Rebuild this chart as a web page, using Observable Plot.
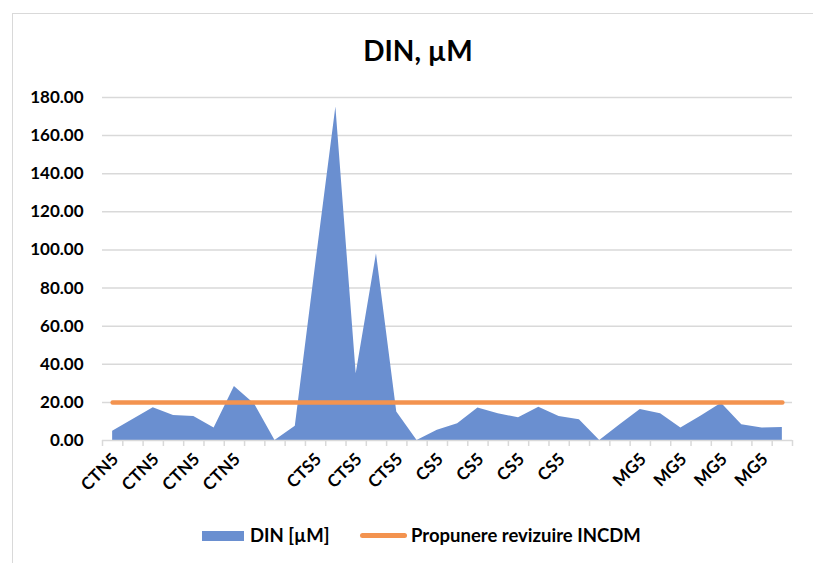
<!DOCTYPE html>
<html>
<head>
<meta charset="utf-8">
<script src="https://cdn.jsdelivr.net/npm/d3@7"></script>
<script src="https://cdn.jsdelivr.net/npm/@observablehq/plot@0.6"></script>
<style>
  html, body { margin: 0; padding: 0; background: #fff; }
  #wrap { position: relative; width: 813px; height: 563px; overflow: hidden; font-family: Lato, "Open Sans", sans-serif; }
  #frame { position: absolute; left: 12px; top: 13px; width: 820px; height: 600px; border-top: 1.5px solid #d9d9d9; border-left: 1.5px solid #d9d9d9; box-sizing: border-box; }
  #title { position: absolute; left: 0; width: 836px; top: 33px; text-align: center; font-weight: bold; font-size: 28px; color: #000; }
  #chart { position: absolute; left: 0; top: 0; }
  .leg { position: absolute; font-weight: bold; font-size: 18.5px; color: #000; line-height: 20px; }
  .sw-area { position: absolute; left: 202px; top: 531px; width: 42px; height: 10px; background: #6a8fd0; }
  .sw-line { position: absolute; left: 360px; top: 533px; width: 47px; height: 4.5px; border-radius: 3px; background: #f3934f; }
</style>
</head>
<body>
<div id="wrap">
  <div id="frame"></div>
  <div id="chart"></div>
  <div id="title">DIN, µM</div>
  <div class="sw-area"></div>
  <div class="leg" style="left:250px; top:525px;">DIN [µM]</div>
  <div class="sw-line"></div>
  <div class="leg" style="left:411px; top:525px;">Propunere revizuire INCDM</div>
</div>
<script>
// Category labels (one per data point; blank = separator)
const categories = [
  "CTN5","CTN5","CTN5","CTN5","CTN5","CTN5","CTN5","CTN5",
  "",
  "CTS5","CTS5","CTS5","CTS5","CTS5","CTS5",
  "",
  "CS5","CS5","CS5","CS5","CS5","CS5","CS5","CS5",
  "",
  "MG5","MG5","MG5","MG5","MG5","MG5","MG5","MG5","MG5"
];
// Displayed tick labels (every other category)
const labelTicks = [0,2,4,6,8,10,12,14,16,18,20,22,24,26,28,30,32];
const tickLabels = ["CTN5","CTN5","CTN5","CTN5","","CTS5","CTS5","CTS5","CS5","CS5","CS5","CS5","","MG5","MG5","MG5","MG5"];
// DIN [µM] values
const dinValues = [
  4.9, 11, 17.2, 13.1, 12.6, 6.5, 28.4, 19,
  0,
  7.5, 92, 175, 35, 98, 15,
  0,
  5.4, 8.8, 17, 14, 11.9, 17.5, 12.6, 10.9,
  0,
  8.2, 16.3, 14, 6.5, 12.8, 19.5, 8.2, 6.5, 6.8
];
// Propunere revizuire INCDM threshold
const limitValues = [20,20,20,20,20,20,20,20,20,20,20,20,20,20,20,20,20,20,20,20,20,20,20,20,20,20,20,20,20,20,20,20,20,20];
const yTicks = [0,20,40,60,80,100,120,140,160,180];

const data = categories.map((c, i) => ({i, cat: c, din: dinValues[i], limit: limitValues[i]}));
const boundaries = d3.range(-0.5, categories.length, 1);

const chart = Plot.plot({
  width: 813,
  height: 500,
  marginLeft: 102,
  marginRight: 21,
  marginTop: 97,
  marginBottom: 60,
  style: {fontFamily: "Lato, 'Open Sans', sans-serif", color: "#000", background: "transparent", overflow: "visible"},
  x: {domain: [-0.5, categories.length - 0.5]},
  y: {domain: [0, 180]},
  marks: [
    Plot.gridY(yTicks.filter(d => d > 0), {stroke: "#d9d9d9", strokeOpacity: 1, strokeWidth: 1.5}),
    Plot.areaY(data, {x: "i", y: "din", fill: "#6a8fd0"}),
    Plot.ruleY([0], {stroke: "#d9d9d9", strokeWidth: 1.5}),
    Plot.axisX(boundaries, {tickSize: 6, tickFormat: () => "", stroke: "#d9d9d9", strokeWidth: 1.5, label: null}),
    Plot.axisX(labelTicks, {tickSize: 0, tickPadding: 16, tickRotate: -45, tickFormat: d => tickLabels[labelTicks.indexOf(d)], fontSize: 17, fontWeight: "bold", label: null, dx: 3}),
    Plot.axisY(yTicks, {tickSize: 0, tickPadding: 19, tickFormat: d => d.toFixed(2), fontSize: 17, fontWeight: "bold", label: null}),
    Plot.lineY(data, {x: "i", y: "limit", stroke: "#f3934f", strokeWidth: 4.5, strokeLinecap: "round"})
  ]
});
document.getElementById("chart").appendChild(chart);
</script>
</body>
</html>
